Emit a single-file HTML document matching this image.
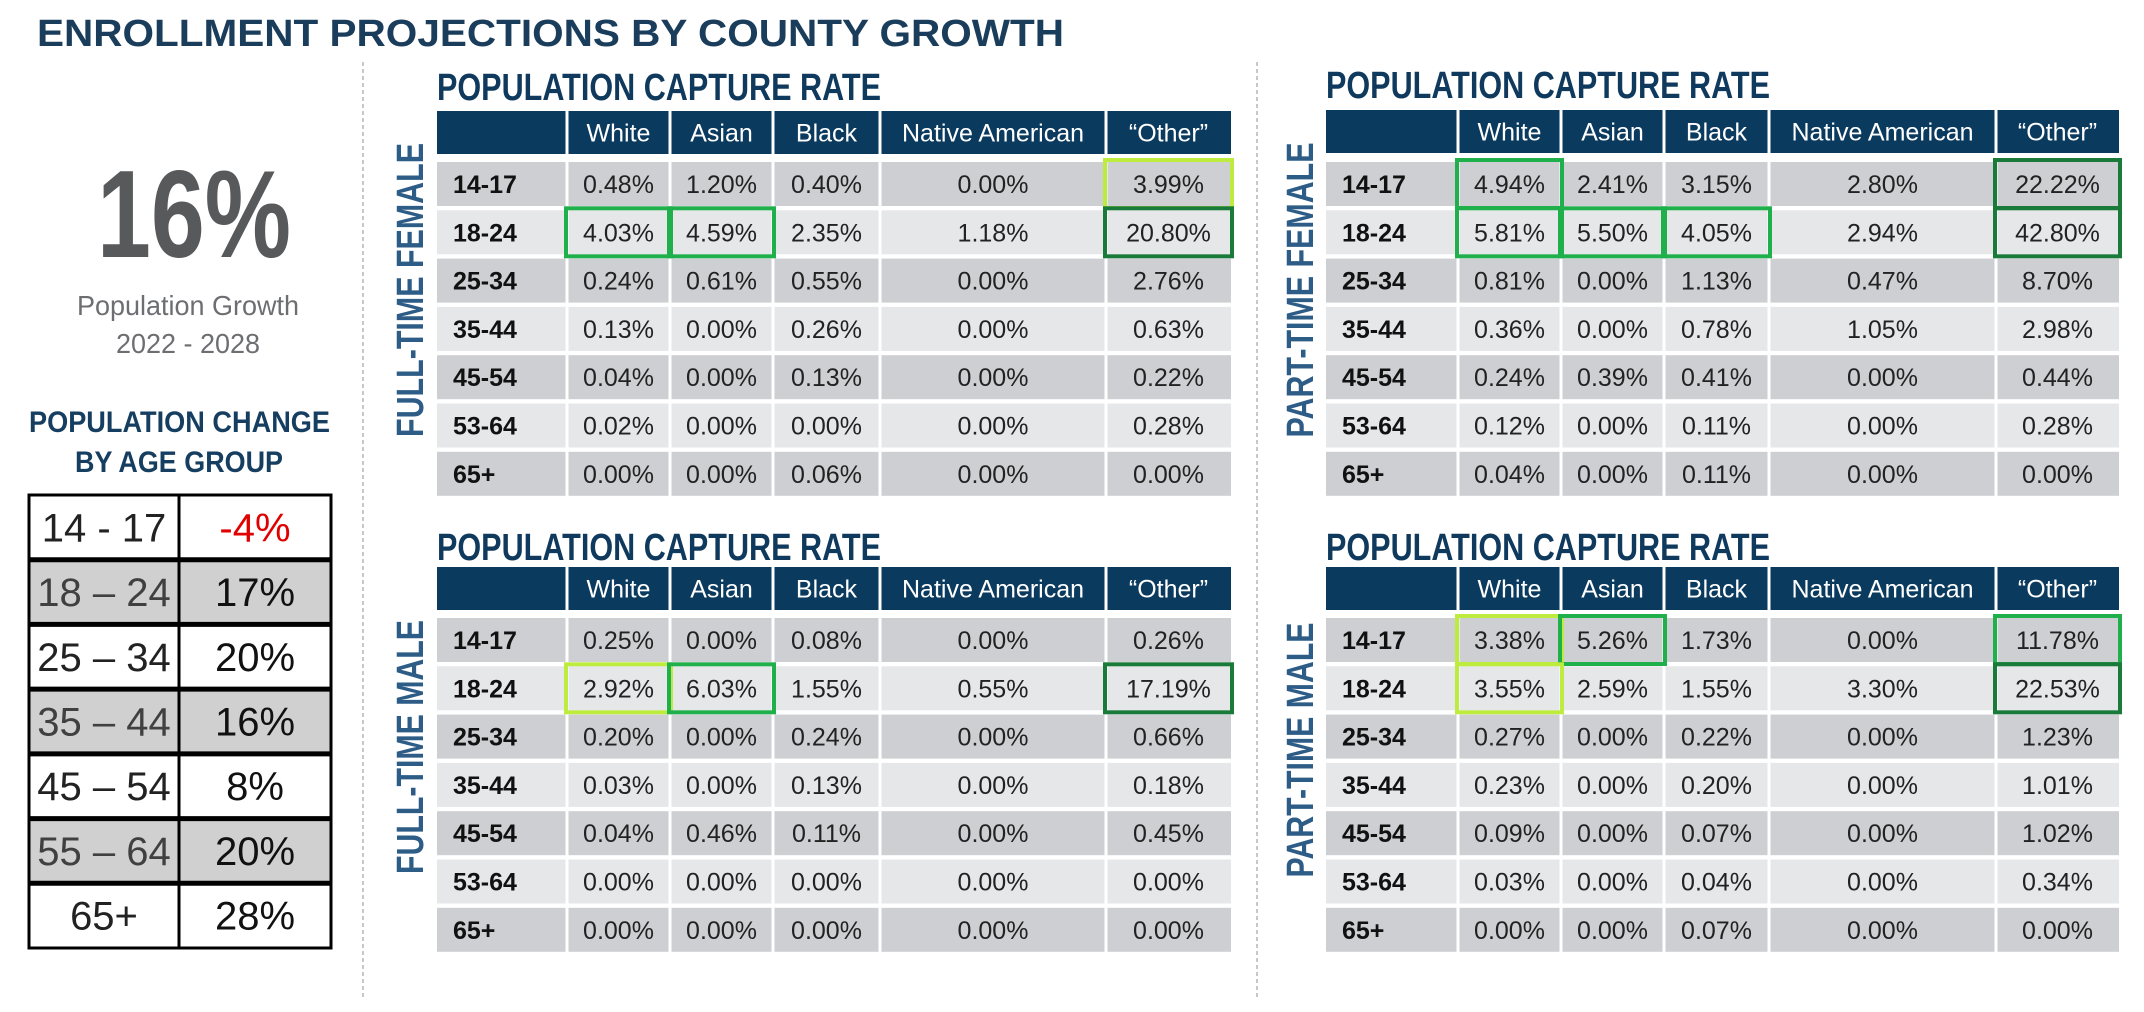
<!DOCTYPE html>
<html><head><meta charset="utf-8">
<style>
html,body{margin:0;padding:0;background:#fff;}
svg{display:block;font-family:"Liberation Sans",Arial,sans-serif;}
</style></head>
<body>
<svg id="page" width="2144" height="1012" viewBox="0 0 2144 1012" xmlns="http://www.w3.org/2000/svg">
<rect x="0" y="0" width="2144" height="1012" fill="#ffffff"/>
<text x="37" y="46" font-size="38" font-weight="bold" fill="#1b3d5c" textLength="1027" lengthAdjust="spacingAndGlyphs">ENROLLMENT PROJECTIONS BY COUNTY GROWTH</text>
<line x1="363" y1="62" x2="363" y2="1000" stroke="#c8c8c8" stroke-width="2" stroke-dasharray="4,3"/>
<line x1="1257" y1="62" x2="1257" y2="1000" stroke="#c8c8c8" stroke-width="2" stroke-dasharray="4,3"/>
<text x="97" y="257" font-size="124" font-weight="bold" fill="#58595b" textLength="194" lengthAdjust="spacingAndGlyphs">16%</text>
<text x="77" y="315" font-size="28" fill="#6d6e71" textLength="222" lengthAdjust="spacingAndGlyphs">Population Growth</text>
<text x="116" y="353" font-size="28" fill="#6d6e71" textLength="144" lengthAdjust="spacingAndGlyphs">2022 - 2028</text>
<text x="29" y="432" font-size="30" font-weight="bold" fill="#163e60" textLength="301" lengthAdjust="spacingAndGlyphs">POPULATION CHANGE</text>
<text x="75" y="472" font-size="30" font-weight="bold" fill="#163e60" textLength="208" lengthAdjust="spacingAndGlyphs">BY AGE GROUP</text>
<g id="ageTable"></g>
<g id="tables"></g>
</svg>
<script>
const ageGroups = ["14 - 17","18 – 24","25 – 34","35 – 44","45 – 54","55 – 64","65+"];
const ageChange = ["-4%","17%","20%","16%","8%","20%","28%"];
const columns = ["White","Asian","Black","Native American","\u201cOther\u201d"];
const rowLabels = ["14-17","18-24","25-34","35-44","45-54","53-64","65+"];
const ftFemale = [
 ["0.48%","1.20%","0.40%","0.00%","3.99%"],
 ["4.03%","4.59%","2.35%","1.18%","20.80%"],
 ["0.24%","0.61%","0.55%","0.00%","2.76%"],
 ["0.13%","0.00%","0.26%","0.00%","0.63%"],
 ["0.04%","0.00%","0.13%","0.00%","0.22%"],
 ["0.02%","0.00%","0.00%","0.00%","0.28%"],
 ["0.00%","0.00%","0.06%","0.00%","0.00%"]];
const ftMale = [
 ["0.25%","0.00%","0.08%","0.00%","0.26%"],
 ["2.92%","6.03%","1.55%","0.55%","17.19%"],
 ["0.20%","0.00%","0.24%","0.00%","0.66%"],
 ["0.03%","0.00%","0.13%","0.00%","0.18%"],
 ["0.04%","0.46%","0.11%","0.00%","0.45%"],
 ["0.00%","0.00%","0.00%","0.00%","0.00%"],
 ["0.00%","0.00%","0.00%","0.00%","0.00%"]];
const ptFemale = [
 ["4.94%","2.41%","3.15%","2.80%","22.22%"],
 ["5.81%","5.50%","4.05%","2.94%","42.80%"],
 ["0.81%","0.00%","1.13%","0.47%","8.70%"],
 ["0.36%","0.00%","0.78%","1.05%","2.98%"],
 ["0.24%","0.39%","0.41%","0.00%","0.44%"],
 ["0.12%","0.00%","0.11%","0.00%","0.28%"],
 ["0.04%","0.00%","0.11%","0.00%","0.00%"]];
const ptMale = [
 ["3.38%","5.26%","1.73%","0.00%","11.78%"],
 ["3.55%","2.59%","1.55%","3.30%","22.53%"],
 ["0.27%","0.00%","0.22%","0.00%","1.23%"],
 ["0.23%","0.00%","0.20%","0.00%","1.01%"],
 ["0.09%","0.00%","0.07%","0.00%","1.02%"],
 ["0.03%","0.00%","0.04%","0.00%","0.34%"],
 ["0.00%","0.00%","0.07%","0.00%","0.00%"]];
// highlights: [row, col, level] level 0=lime,1=green,2=dark green
const ftFemaleHi = [[0,4,0],[1,0,1],[1,1,1],[1,4,2]];
const ftMaleHi = [[1,0,0],[1,1,1],[1,4,2]];
const ptFemaleHi = [[0,0,1],[0,4,2],[1,0,1],[1,1,1],[1,2,1],[1,4,2]];
const ptMaleHi = [[0,0,0],[0,1,1],[0,4,1],[1,0,0],[1,4,2]];

const NS="http://www.w3.org/2000/svg";
function mk(parent,tag,attrs,txt){const e=document.createElementNS(NS,tag);for(const k in attrs)e.setAttribute(k,attrs[k]);if(txt!==undefined)e.textContent=txt;parent.appendChild(e);return e;}

// age table
(function(){
 const g=document.getElementById('ageTable');
 const x0=29,x1=179,x2=331,y0=495,rh=(948-495)/7;
 ageGroups.forEach((a,i)=>{
  const y=y0+i*rh;
  const r=mk(g,'rect',{x:x0,y:y,width:x2-x0,height:rh,fill:i%2?'#d0d0d0':'#ffffff'});
  
  
  const t1=mk(g,'text',{x:(x0+x1)/2,y:y+rh/2+14,'font-size':40,'text-anchor':'middle',fill:i%2?'#404040':'#222'},a);
  
  
  const t2=mk(g,'text',{x:(x1+x2)/2,y:y+rh/2+14,'font-size':40,'text-anchor':'middle',fill:ageChange[i].startsWith('-')?'#e00000':'#111'},ageChange[i]);
  
  
  if(i>0){const l=mk(g,'line',{x1:x0,y1:y,x2:x2,y2:y,stroke:'#000','stroke-width':5});
   
   }
 });
 const b=mk(g,'rect',{x:x0,y:y0,width:x2-x0,height:948-y0,fill:'none',stroke:'#000','stroke-width':3});
 
 
 const d=mk(g,'line',{x1:x1,y1:y0,x2:x1,y2:948,stroke:'#000','stroke-width':3});
 
 
})();

const hiColors=['#bdec3f','#1fb04c','#1a7a3a'];
function drawTable(name,data,hi,o){
 const g=mk(document.getElementById('tables'),'g',{});
 
 
 const h=mk(g,'text',{x:o.cols[0],y:o.headY,'font-size':38,'font-weight':'bold',fill:'#0f3a5d',textLength:444,lengthAdjust:'spacingAndGlyphs'},'POPULATION CAPTURE RATE');
 
 
 const v=mk(g,'text',{transform:`translate(${o.vx},${o.vy}) rotate(-90)`,'font-size':38,'font-weight':'bold',fill:'#2d5c86','text-anchor':'middle',textLength:o.vlen,lengthAdjust:'spacingAndGlyphs'},o.vlabel);
 
 
 const c=o.cols;
 const hb=mk(g,'rect',{x:c[0],y:o.hy,width:c[6]-c[0],height:o.hh,fill:'#0b3a5f'});
 
 
 for(let j=1;j<6;j++){
  const sep=mk(g,'rect',{x:c[j]-1.5,y:o.hy,width:3,height:o.hh,fill:'#ffffff'});
  
  
  const t=mk(g,'text',{x:(c[j]+c[j+1])/2,y:o.hy+o.hh/2+9,'font-size':25,'text-anchor':'middle',fill:'#ffffff'},columns[j-1]);
  
  
 }
 data.forEach((row,i)=>{
  const y=o.ry+i*o.rp;
  const fill=i%2?'#e6e7e9':'#cdcfd3';
  for(let j=0;j<6;j++){
   const r=mk(g,'rect',{x:c[j]+(j?1.5:0),y:y,width:c[j+1]-c[j]-(j?1.5:0)-(j<5?1.5:0),height:o.rh,fill:fill});
   
   
  }
  const lab=mk(g,'text',{x:c[0]+16,y:y+o.rh/2+9,'font-size':25,'font-weight':'bold',fill:'#111'},rowLabels[i]);
  
  
  row.forEach((val,j)=>{
   const t=mk(g,'text',{x:(c[j+1]+c[j+2])/2,y:y+o.rh/2+9,'font-size':25,'text-anchor':'middle',fill:'#222'},val);
   
   
  });
 });
 hi.forEach(([i,j,l])=>{
  const y=o.ry+i*o.rp;
  const r=mk(g,'rect',{x:c[j+1]-1,y:y-2,width:c[j+2]-c[j+1]+2,height:o.rh+4,fill:'none',stroke:hiColors[l],'stroke-width':4});
  
  
 });
}
const colsL=[437,567,670,773,880,1106,1231];
const colsR=[1326,1458,1561,1664,1769,1996,2119];
drawTable('ft-female',ftFemale,ftFemaleHi,{cols:colsL,headY:100,hy:111,hh:43,ry:162,rp:48.3,rh:44,vx:423,vy:290,vlen:294,vlabel:'FULL-TIME FEMALE'});
drawTable('ft-male',ftMale,ftMaleHi,{cols:colsL,headY:560,hy:567,hh:43,ry:618,rp:48.3,rh:44,vx:423,vy:747,vlen:254,vlabel:'FULL-TIME MALE'});
drawTable('pt-female',ptFemale,ptFemaleHi,{cols:colsR,headY:98,hy:110,hh:43,ry:162,rp:48.3,rh:44,vx:1313,vy:290,vlen:295,vlabel:'PART-TIME FEMALE'});
drawTable('pt-male',ptMale,ptMaleHi,{cols:colsR,headY:560,hy:567,hh:43,ry:618,rp:48.3,rh:44,vx:1313,vy:750,vlen:255,vlabel:'PART-TIME MALE'});
</script>
</body></html>
